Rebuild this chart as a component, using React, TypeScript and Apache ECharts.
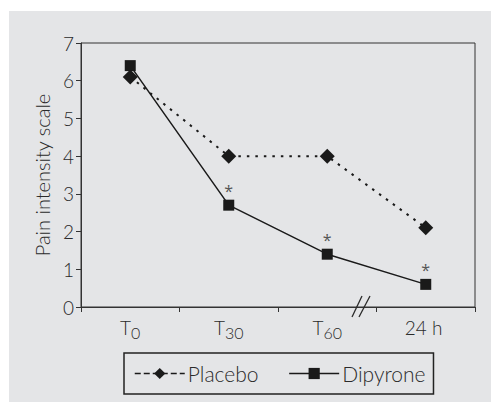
import React, { useEffect, useRef } from "react";
import * as echarts from "echarts";

const categories = ["T0", "T30", "T60", "24 h"];
const placebo = [6.1, 4.0, 4.0, 2.1];
const dipyrone = [6.4, 2.7, 1.4, 0.6];
const significance = ["", "*", "*", "*"];
const yTicks = [0, 1, 2, 3, 4, 5, 6, 7];

const FONT = "Lato, 'Open Sans', sans-serif";
const INK = "#2a2a2a";
const W = 300;

function catLabel(v: string): string {
  const m = v.match(/^T(\d+)$/);
  if (m) return `{t|T}{s|${m[1]}}`;
  return `{t|${v}}{s| }`;
}

export default function App() {
  const ref = useRef<HTMLDivElement>(null);
  useEffect(() => {
    if (!ref.current) return;
    const chart = echarts.init(ref.current, null, { renderer: "svg" });
    const gLeft = 81, gTop = 43, gW = 394, gH = 264;
    chart.setOption({
      animation: false,
      backgroundColor: "#ffffff",
      textStyle: { fontFamily: FONT, fontWeight: W },
      graphic: [
        { type: "rect", z: -10, shape: { x: 9, y: 11, width: 482, height: 391 }, style: { fill: "#e4e5e7" } },
        { type: "line", z: 10, shape: { x1: 352, y1: 317, x2: 362, y2: 296 }, style: { stroke: INK, lineWidth: 1.3 } },
        { type: "line", z: 10, shape: { x1: 359, y1: 317, x2: 370, y2: 296 }, style: { stroke: INK, lineWidth: 1.3 } },
      ],
      grid: { left: gLeft, top: gTop, width: gW, height: gH, show: true, borderColor: "#333", borderWidth: 1, backgroundColor: "transparent" },
      xAxis: {
        type: "category",
        data: categories,
        boundaryGap: true,
        axisLine: { lineStyle: { color: "#333", width: 1 } },
        axisTick: { show: true, length: 5, inside: false, lineStyle: { color: "#333" } },
        axisLabel: {
          margin: 7,
          formatter: (v: string) => catLabel(v),
          rich: {
            t: { fontSize: 19, color: INK, fontFamily: FONT, fontWeight: W },
            s: { fontSize: 16, color: INK, fontFamily: FONT, fontWeight: W, padding: [10, 0, 0, 0] },
          },
        },
      },
      yAxis: {
        type: "value",
        min: yTicks[0],
        max: yTicks[yTicks.length - 1],
        interval: 1,
        name: "Pain intensity scale",
        nameLocation: "middle",
        nameGap: 27,
        nameTextStyle: { fontSize: 20, color: INK, fontFamily: FONT, fontWeight: W },
        axisLine: { show: true, lineStyle: { color: "#333", width: 1 } },
        axisTick: { show: true, length: 5, lineStyle: { color: "#333" } },
        splitLine: { show: false },
        axisLabel: { fontSize: 19, color: INK, margin: 7, fontFamily: FONT, fontWeight: W },
      },
      legend: {
        left: 124,
        top: 353,
        orient: "horizontal",
        padding: [10, 8, 10, 10],
        itemGap: 30,
        itemWidth: 50,
        itemHeight: 14,
        borderColor: "#222",
        borderWidth: 1.5,
        textStyle: { fontSize: 21, color: INK, fontFamily: FONT, fontWeight: W, padding: [0, 0, 0, -2] },
        data: [
          { name: "Placebo", lineStyle: { type: [6, 3], width: 1.5 } },
          { name: "Dipyrone", lineStyle: { width: 1.3 } },
        ],
      },
      series: [
        {
          name: "Placebo",
          type: "line",
          data: placebo,
          symbol: "diamond",
          symbolSize: 15,
          itemStyle: { color: "#1a1a1a" },
          lineStyle: { color: "#1a1a1a", width: 2, type: [2.5, 6] },
          z: 2,
        },
        {
          name: "Dipyrone",
          type: "line",
          data: dipyrone,
          symbol: "rect",
          symbolSize: 11,
          itemStyle: { color: "#1a1a1a" },
          lineStyle: { color: "#1a1a1a", width: 1.5, type: "solid" },
          z: 3,
          label: {
            show: true,
            position: "top",
            distance: 1,
            fontSize: 16,
            color: "#555",
            fontFamily: "'Open Sans', sans-serif",
            fontWeight: 400,
            formatter: (p: any) => significance[p.dataIndex],
          },
        },
      ],
    });
    return () => chart.dispose();
  }, []);
  return (
    <div style={{ position: "absolute", left: 0, top: 0, width: 491, height: 408 }}>
      <div ref={ref} style={{ width: 491, height: 408 }} />
    </div>
  );
}
